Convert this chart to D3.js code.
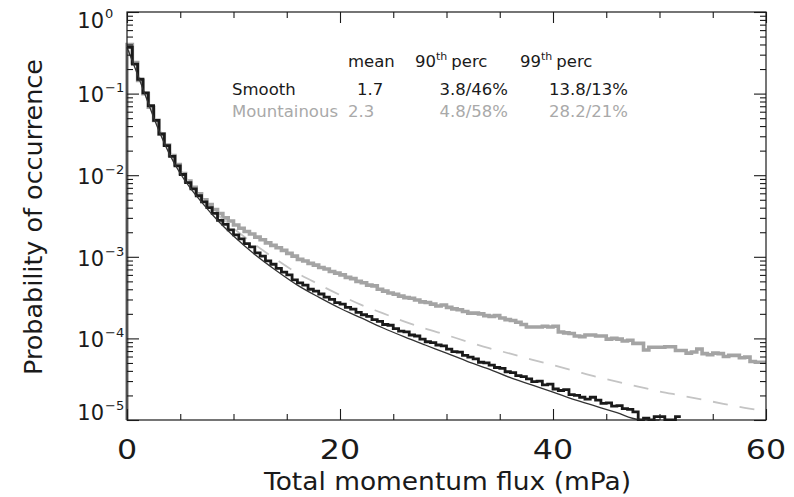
<!DOCTYPE html>
<html>
<head>
<meta charset="utf-8">
<script src="https://cdn.jsdelivr.net/npm/d3@7"></script>
<style>
  body { margin: 0; background: #fff; }
  svg { display: block; font-family: "DejaVu Sans", sans-serif; }
</style>
</head>
<body>
<div id="chart"></div>
<script>
// both histograms use 0.5 mPa bins starting at 0 (0 = empty bin)
const binWidth = 0.5;

const smoothHist = [
  0.37, 0.23, 0.15, 0.102, 0.071, 0.047, 0.032, 0.023, 0.017, 0.013,
  0.0102, 0.0081, 0.0068, 0.0056, 0.0047, 0.0040, 0.0034, 0.0028, 0.0025, 0.00214,
  0.00186, 0.00166, 0.00145, 0.00132, 0.00112, 0.00102, 0.00089, 0.00081, 0.00072, 0.00065,
  0.00060, 0.00052, 0.00048, 0.00045, 0.00040, 0.00038, 0.00035, 0.00032, 0.00030, 0.000275,
  0.000263, 0.00024, 0.000229, 0.000209, 0.000195, 0.000186, 0.00017, 0.000162, 0.000148, 0.000145,
  0.000132, 0.000123, 0.00012, 0.00011, 0.000107, 9.8e-5, 9.1e-5, 8.9e-5, 8.3e-5, 8.1e-5,
  7.4e-5, 6.9e-5, 6.8e-5, 6.2e-5, 5.9e-5, 5.6e-5, 5.1e-5, 5.0e-5, 4.7e-5, 4.4e-5,
  4.3e-5, 3.9e-5, 3.8e-5, 3.5e-5, 3.4e-5, 3.2e-5, 2.95e-5, 3.0e-5, 2.7e-5, 2.75e-5,
  2.4e-5, 2.3e-5, 2.35e-5, 2.05e-5, 2.0e-5, 1.9e-5, 1.8e-5, 1.9e-5, 1.75e-5, 1.6e-5,
  1.62e-5, 1.48e-5, 1.5e-5, 1.38e-5, 1.35e-5, 1.26e-5, 0, 1.05e-5, 0, 1.1e-5,
  1.1e-5, 0, 0, 1.1e-5
];

const mountainHist = [
  0.40, 0.24, 0.145, 0.100, 0.068, 0.047, 0.032, 0.0234, 0.0174, 0.0135,
  0.0105, 0.0085, 0.0071, 0.0059, 0.0050, 0.00437, 0.0038, 0.0034, 0.0030, 0.00275,
  0.00245, 0.00224, 0.00204, 0.0019, 0.00174, 0.00162, 0.00148, 0.00138, 0.00129, 0.0012,
  0.0011, 0.00102, 0.00093, 0.00089, 0.00083, 0.00079, 0.00074, 0.00071, 0.00066, 0.00063,
  0.0006, 0.00056, 0.00054, 0.0005, 0.00048, 0.00045, 0.00044, 0.0004, 0.00038, 0.00036,
  0.000347, 0.00033, 0.000316, 0.00031, 0.000295, 0.00028, 0.000275, 0.000263, 0.00025, 0.000257,
  0.00024, 0.00023, 0.000224, 0.000214, 0.000204, 0.000204, 0.0002, 0.00019, 0.000186, 0.00019,
  0.000178, 0.00017, 0.000166, 0.000158, 0.000148, 0.000138, 0.000138, 0.000138, 0.000141, 0.000138,
  0.000141, 0.00012, 0.000117, 0.000115, 0.000107, 0.000105, 0.00011, 0.00011, 0.000107, 0.000107,
  9.8e-5, 1.0e-4, 9.8e-5, 9.3e-5, 9.5e-5, 8.7e-5, 8.7e-5, 7.2e-5, 7.8e-5, 7.8e-5,
  7.8e-5, 7.9e-5, 7.9e-5, 7.1e-5, 7.1e-5, 6.6e-5, 6.8e-5, 7.4e-5, 6.5e-5, 6.3e-5,
  6.6e-5, 6.5e-5, 6.0e-5, 6.2e-5, 6.2e-5, 5.8e-5, 5.9e-5, 5.2e-5, 5.1e-5, 5.1e-5
];

// fitted curves
const smoothFitX = [0, 1, 2, 3, 4, 5, 6, 7, 8, 9, 10, 12, 14, 16, 18, 20, 22, 24, 26, 28, 30,
  32, 34, 36, 38, 40, 42, 44, 46, 48, 50];
const smoothFitY = [0.37, 0.17, 0.076, 0.035, 0.018, 0.0105, 0.0068, 0.0047, 0.0033, 0.0024,
  0.0018, 0.00107, 0.00068, 0.00045, 0.00032, 0.000234, 0.000178, 0.000135, 0.000105, 8.3e-5,
  6.6e-5, 5.2e-5, 4.2e-5, 3.3e-5, 2.7e-5, 2.2e-5, 1.78e-5, 1.48e-5, 1.23e-5, 1.02e-5, 8.5e-6];

const mountainFitX = [0, 1, 2, 3, 4, 5, 6, 7, 8, 10, 12, 14, 16, 18, 20, 22, 24, 26, 28, 30,
  32, 34, 36, 38, 40, 42, 44, 46, 48, 50, 52, 54, 56, 58, 60];
const mountainFitY = [0.38, 0.18, 0.079, 0.038, 0.020, 0.0117, 0.0076, 0.0052, 0.0038, 0.00224,
  0.00141, 0.00093, 0.00063, 0.00046, 0.00034, 0.000257, 0.000204, 0.000162, 0.000132, 0.00011,
  9.1e-5, 7.6e-5, 6.5e-5, 5.5e-5, 4.7e-5, 4.0e-5, 3.4e-5, 2.95e-5, 2.57e-5, 2.24e-5,
  2.0e-5, 1.78e-5, 1.58e-5, 1.41e-5, 1.29e-5];

const xMajorTicks = [0, 20, 40, 60];
const xMinorTicks = [5, 10, 15, 25, 30, 35, 45, 50, 55];
const yExponents = [0, -1, -2, -3, -4, -5];

const statHeader = ["mean", "90", "99"];
const statRows = ["Smooth", "Mountainous"];
const statMean = ["1.7", "2.3"];
const statP90 = ["3.8/46%", "4.8/58%"];
const statP99 = ["13.8/13%", "28.2/21%"];

const width = 794, height = 497;
const margin = { top: 12, right: 28, bottom: 77, left: 127 };
const plotRight = width - margin.right;
const plotBottom = height - margin.bottom;

const ink = "#1a1a1a";
const grey = "#a4a4a4";
const greyText = "#a9a9a9";
const dashGrey = "#c4c4c4";

const x = d3.scaleLinear().domain([0, 60]).range([margin.left, plotRight]);
const y = d3.scaleLog().domain([1e-5, 1]).range([plotBottom, margin.top]).clamp(true);

const svg = d3.select("#chart").append("svg")
  .attr("width", width)
  .attr("height", height);

svg.append("clipPath").attr("id", "plotClip")
  .append("rect")
  .attr("x", margin.left - 6).attr("y", margin.top)
  .attr("width", plotRight - margin.left + 6).attr("height", plotBottom - margin.top + 1);

const plot = svg.append("g").attr("clip-path", "url(#plotClip)");

function histPoints(values, fromFloor) {
  const pts = values.map((v, i) => [i * binWidth, v]);
  pts.push([values.length * binWidth, values[values.length - 1]]);
  if (fromFloor) pts.unshift([0, 0]);
  return pts;
}

const stepLine = d3.line()
  .x(d => x(d[0]))
  .y(d => y(d[1]))
  .curve(d3.curveStepAfter);

const smoothLine = d3.line()
  .x(d => x(d[0]))
  .y(d => y(d[1]))
  .curve(d3.curveMonotoneX);

// mountainous histogram (grey)
plot.append("path")
  .attr("d", stepLine(histPoints(mountainHist, true)))
  .attr("fill", "none")
  .attr("stroke", grey)
  .attr("stroke-width", 3.6);

// mountainous fit (dashed)
plot.append("path")
  .attr("d", smoothLine(d3.zip(mountainFitX, mountainFitY)))
  .attr("fill", "none")
  .attr("stroke", dashGrey)
  .attr("stroke-width", 1.8)
  .attr("stroke-dasharray", "15,12");

// smooth histogram (black)
plot.append("path")
  .attr("d", stepLine(histPoints(smoothHist, false)))
  .attr("fill", "none")
  .attr("stroke", ink)
  .attr("stroke-width", 2.8);

// smooth fit (thin)
plot.append("path")
  .attr("d", smoothLine(d3.zip(smoothFitX, smoothFitY)))
  .attr("fill", "none")
  .attr("stroke", "#333")
  .attr("stroke-width", 1.3);

// frame
svg.append("rect")
  .attr("x", margin.left).attr("y", margin.top)
  .attr("width", plotRight - margin.left).attr("height", plotBottom - margin.top)
  .attr("fill", "none").attr("stroke", ink).attr("stroke-width", 1.2);

// ticks on all four sides, pointing inward
const yMajor = yExponents.map(e => Math.pow(10, e));
const yMinor = y.ticks().filter(v => Math.abs(Math.log10(v) - Math.round(Math.log10(v))) > 1e-6);

function tickAxis(axis, at) {
  const g = svg.append("g").attr("transform", at).call(axis.tickFormat(""));
  g.select(".domain").remove();
  g.selectAll(".tick line").attr("stroke", ink).attr("stroke-width", 1.1);
  return g;
}

tickAxis(d3.axisLeft(y).tickValues(yMajor).tickSize(-12), `translate(${margin.left},0)`);
tickAxis(d3.axisLeft(y).tickValues(yMinor).tickSize(-6), `translate(${margin.left},0)`);
tickAxis(d3.axisRight(y).tickValues(yMajor).tickSize(-12), `translate(${plotRight},0)`);
tickAxis(d3.axisRight(y).tickValues(yMinor).tickSize(-6), `translate(${plotRight},0)`);
tickAxis(d3.axisBottom(x).tickValues(xMajorTicks).tickSize(-11), `translate(0,${plotBottom})`);
tickAxis(d3.axisBottom(x).tickValues(xMinorTicks).tickSize(-6), `translate(0,${plotBottom})`);
tickAxis(d3.axisTop(x).tickValues(xMajorTicks).tickSize(-11), `translate(0,${margin.top})`);
tickAxis(d3.axisTop(x).tickValues(xMinorTicks).tickSize(-6), `translate(0,${margin.top})`);

// y tick labels: 10 with superscript exponent, kept inside the axis span
const yLabels = svg.append("g").attr("fill", ink);
yExponents.forEach(e => {
  const base = Math.min(plotBottom, Math.max(margin.top + 16, y(Math.pow(10, e)) + 8.7));
  yLabels.append("text")
    .attr("x", 104).attr("y", base)
    .attr("text-anchor", "end")
    .attr("font-size", 21)
    .text("10");
  yLabels.append("text")
    .attr("x", 105).attr("y", base - 10)
    .attr("font-size", 13)
    .text(e === 0 ? "0" : "\u2212" + Math.abs(e));
});

// x tick labels
svg.append("g").selectAll("text")
  .data(xMajorTicks)
  .join("text")
  .attr("transform", d => `translate(${x(d)},459) scale(1.22,1)`)
  .attr("text-anchor", "middle")
  .attr("font-size", 26)
  .attr("fill", ink)
  .text(d => d);

// axis titles
svg.append("text")
  .attr("x", 264).attr("y", 490)
  .attr("font-size", 25)
  .attr("textLength", 367).attr("lengthAdjust", "spacingAndGlyphs")
  .attr("fill", ink)
  .text("Total momentum flux (mPa)");

svg.append("text")
  .attr("transform", "translate(42,375) rotate(-90)")
  .attr("font-size", 25)
  .attr("textLength", 316).attr("lengthAdjust", "spacingAndGlyphs")
  .attr("fill", ink)
  .text("Probability of occurrence");

// statistics table
const table = svg.append("g").attr("font-size", 16.5);
table.append("text").attr("x", 348).attr("y", 67).attr("fill", ink).text(statHeader[0]);
[[statHeader[1], 415], [statHeader[2], 520]].forEach(([num, px]) => {
  const t = table.append("text").attr("x", px).attr("y", 67).attr("fill", ink);
  t.append("tspan").text(num);
  t.append("tspan").attr("font-size", 11).attr("dy", -7).text("th");
  t.append("tspan").attr("dy", 7).attr("dx", 4).text("perc");
});

const rowY = [95, 117];
const rowColor = [ink, greyText];
const meanX = [357, 348];
statRows.forEach((name, i) => {
  table.append("text").attr("x", 232).attr("y", rowY[i]).attr("fill", rowColor[i]).text(name);
  table.append("text").attr("x", meanX[i]).attr("y", rowY[i]).attr("fill", rowColor[i]).text(statMean[i]);
  table.append("text").attr("x", 508).attr("y", rowY[i]).attr("text-anchor", "end")
    .attr("fill", rowColor[i]).text(statP90[i]);
  table.append("text").attr("x", 628).attr("y", rowY[i]).attr("text-anchor", "end")
    .attr("fill", rowColor[i]).text(statP99[i]);
});
</script>
</body>
</html>
